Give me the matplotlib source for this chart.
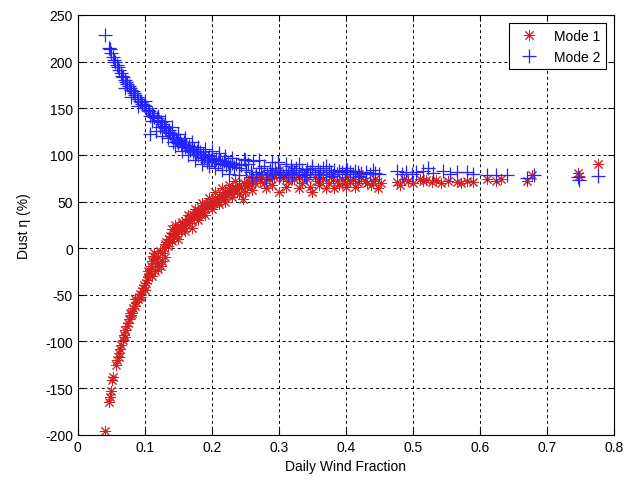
import matplotlib
matplotlib.use('Agg')
import matplotlib.pyplot as plt

plt.rcParams['font.family'] = ['Liberation Sans', 'DejaVu Sans']
plt.rcParams['axes.unicode_minus'] = False

# Mode 1 (red *)
mode1_x = [0.040, 0.047, 0.048, 0.049, 0.051, 0.052, 0.057, 0.059, 0.061, 0.063,
           0.065, 0.067, 0.069, 0.071, 0.073, 0.075, 0.077, 0.079, 0.081, 0.083,
           0.085, 0.087, 0.089, 0.091, 0.093, 0.095, 0.097, 0.099, 0.101, 0.103,
           0.105, 0.106, 0.108, 0.109, 0.111, 0.112, 0.114, 0.116, 0.118, 0.120,
           0.122, 0.124, 0.126, 0.128, 0.130, 0.132, 0.134, 0.136, 0.138, 0.140,
           0.142, 0.144, 0.146, 0.148, 0.150, 0.152, 0.154, 0.156, 0.158, 0.160,
           0.162, 0.164, 0.166, 0.168, 0.170, 0.172, 0.174, 0.176, 0.178, 0.180,
           0.182, 0.184, 0.186, 0.188, 0.190, 0.192, 0.194, 0.196, 0.198, 0.200,
           0.203, 0.205, 0.208, 0.210, 0.213, 0.215, 0.218, 0.220, 0.223, 0.225,
           0.228, 0.230, 0.233, 0.235, 0.238, 0.240, 0.243, 0.246, 0.248, 0.252,
           0.255, 0.258, 0.262, 0.265, 0.268, 0.272, 0.275, 0.278, 0.282, 0.285,
           0.288, 0.292, 0.295, 0.300, 0.302, 0.306, 0.310, 0.314, 0.318, 0.322,
           0.326, 0.330, 0.334, 0.338, 0.342, 0.346, 0.350, 0.354, 0.358, 0.362,
           0.366, 0.370, 0.374, 0.378, 0.382, 0.386, 0.390, 0.394, 0.398, 0.402,
           0.406, 0.410, 0.414, 0.418, 0.422, 0.428, 0.432, 0.438, 0.444, 0.448,
           0.452, 0.476, 0.480, 0.486, 0.492, 0.500, 0.510, 0.515, 0.520, 0.528,
           0.535, 0.542, 0.552, 0.566, 0.572, 0.580, 0.590, 0.610, 0.624, 0.632,
           0.670, 0.678, 0.746, 0.748, 0.776,
           0.062, 0.070, 0.078, 0.086, 0.094, 0.100, 0.104, 0.110, 0.115, 0.120,
           0.125, 0.130, 0.135, 0.140, 0.145, 0.150, 0.155, 0.160, 0.165, 0.170,
           0.175, 0.180, 0.185, 0.190, 0.195, 0.200, 0.205, 0.210, 0.215, 0.220,
           0.225, 0.230, 0.235, 0.240, 0.250, 0.255, 0.260, 0.270, 0.280, 0.290,
           0.300, 0.310, 0.320, 0.330, 0.340, 0.360, 0.380, 0.400, 0.420, 0.440]
mode1_y = [-196, -165, -159, -153, -141, -138, -125, -120, -117, -108,
           -104, -98, -93, -88, -83, -80, -76, -72, -69, -64,
           -62, -58, -55, -52, -49, -46, -43, -40, -37, -34,
           -31, -28, -24, -19, -14, -8, -5, -12, -16, -9,
           -3, -19, -14, 0, 4, 7, 2, 10, 13, 8,
           16, 12, 19, 15, 21, 24, 18, 26, 22, 29,
           25, 31, 27, 34, 30, 36, 32, 38, 35, 41,
           37, 43, 39, 45, 42, 47, 44, 50, 46, 51,
           48, 54, 50, 56, 53, 58, 55, 60, 57, 62,
           59, 64, 61, 66, 63, 68, 65, 53, 70, 67,
           71, 69, 73, 70, 75, 72, 76, 70, 78, 74,
           80, 76, 82, 60, 78, 75, 80, 72, 78, 74,
           80, 76, 70, 78, 74, 66, 60, 76, 72, 78,
           74, 64, 70, 76, 65, 72, 68, 74, 70, 76,
           72, 74, 66, 70, 76, 72, 70, 68, 74, 64,
           70, 71, 68, 74, 72, 70, 74, 72, 73, 71,
           73, 70, 72, 71, 70, 72, 71, 74, 72, 74,
           72, 78, 81, 77, 90,
           -112, -95, -70, -55, -52, -45, -25, -30, -25, -22,
           -5, -10, 5, 20, 25, 10, 28, 18, 35, 22,
           42, 30, 48, 36, 54, 42, 60, 47, 64, 50,
           68, 55, 72, 58, 60, 76, 62, 80, 65, 68,
           84, 66, 84, 65, 82, 68, 80, 66, 80, 72]

# Mode 2 (blue +)
mode2_x = [0.040, 0.046, 0.048, 0.050, 0.052, 0.054, 0.056, 0.058, 0.060, 0.062,
           0.064, 0.066, 0.068, 0.070, 0.072, 0.074, 0.076, 0.078, 0.080, 0.082,
           0.084, 0.086, 0.088, 0.090, 0.092, 0.094, 0.096, 0.098, 0.100, 0.102,
           0.104, 0.106, 0.107, 0.108, 0.110, 0.112, 0.114, 0.116, 0.118, 0.120,
           0.122, 0.124, 0.126, 0.128, 0.130, 0.132, 0.134, 0.136, 0.138, 0.140,
           0.142, 0.144, 0.146, 0.148, 0.150, 0.152, 0.154, 0.156, 0.158, 0.160,
           0.162, 0.164, 0.166, 0.168, 0.170, 0.172, 0.174, 0.176, 0.178, 0.180,
           0.182, 0.184, 0.186, 0.188, 0.190, 0.192, 0.194, 0.196, 0.198, 0.200,
           0.203, 0.206, 0.209, 0.212, 0.215, 0.218, 0.221, 0.224, 0.227, 0.230,
           0.233, 0.236, 0.240, 0.244, 0.248, 0.251, 0.254, 0.258, 0.262, 0.266,
           0.270, 0.274, 0.278, 0.282, 0.286, 0.290, 0.294, 0.298, 0.302, 0.306,
           0.310, 0.314, 0.318, 0.322, 0.326, 0.330, 0.334, 0.338, 0.342, 0.346,
           0.350, 0.354, 0.358, 0.362, 0.366, 0.370, 0.374, 0.378, 0.382, 0.386,
           0.390, 0.394, 0.398, 0.402, 0.406, 0.410, 0.414, 0.418, 0.422, 0.430,
           0.436, 0.444, 0.450, 0.476, 0.484, 0.490, 0.498, 0.505, 0.515, 0.522,
           0.530, 0.545, 0.556, 0.566, 0.580, 0.590, 0.610, 0.624, 0.640, 0.670,
           0.680, 0.746, 0.748, 0.776,
           0.070, 0.080, 0.090, 0.100, 0.110, 0.120, 0.125, 0.130, 0.135, 0.140,
           0.145, 0.150, 0.155, 0.160, 0.165, 0.170, 0.175, 0.180, 0.185, 0.190,
           0.195, 0.200, 0.205, 0.210, 0.215, 0.220, 0.225, 0.230, 0.240, 0.250,
           0.260, 0.270, 0.280, 0.290, 0.300, 0.310, 0.320, 0.330, 0.340, 0.350,
           0.360, 0.370, 0.380, 0.400, 0.420, 0.440]
mode2_y = [228, 215, 213, 209, 205, 202, 199, 196, 194, 191,
           188, 185, 183, 180, 178, 176, 174, 172, 170, 168,
           166, 164, 162, 160, 158, 157, 155, 153, 152, 150,
           148, 147, 142, 122, 145, 143, 141, 126, 139, 137,
           130, 135, 133, 131, 129, 127, 125, 127, 123, 121,
           114, 119, 117, 115, 113, 116, 112, 110, 114, 108,
           111, 107, 109, 105, 108, 103, 106, 101, 104, 100,
           103, 98, 101, 97, 100, 92, 97, 99, 94, 97,
           93, 96, 91, 94, 90, 93, 89, 92, 88, 91,
           87, 90, 86, 89, 96, 84, 90, 82, 93, 80,
           86, 82, 88, 79, 84, 80, 86, 92, 82, 78,
           84, 80, 88, 82, 86, 80, 84, 78, 85, 82,
           86, 80, 84, 82, 86, 80, 84, 82, 84, 80,
           83, 82, 80, 84, 82, 80, 83, 82, 81, 82,
           80, 81, 80, 83, 80, 82, 80, 82, 83, 86,
           81, 83, 80, 82, 82, 80, 78, 78, 78, 75,
           78, 76, 73, 77,
           172, 162, 152, 158, 136, 142, 120, 136, 118, 130,
           110, 122, 104, 118, 100, 114, 95, 108, 90, 106,
           88, 104, 86, 102, 84, 99, 80, 97, 78, 94,
           76, 95, 74, 92, 76, 90, 76, 90, 76, 88,
           76, 88, 77, 86, 77, 84]

fig = plt.figure(figsize=(6.33, 4.81), dpi=100)
ax = fig.add_axes([0.123, 0.094, 0.847, 0.873])

# matlab style asterisk: 8 spokes
ax.plot(mode1_x, mode1_y, linestyle='none', marker=(8, 2, 0), color='#d42020',
        markersize=8, markeredgewidth=0.7, label='Mode 1')
ax.plot(mode2_x, mode2_y, linestyle='none', marker='+', color='#2424ff',
        markersize=10, markeredgewidth=0.9, label='Mode 2')

ax.set_xlim(0, 0.8)
ax.set_ylim(-200, 250)
ax.set_xticks([0, 0.1, 0.2, 0.3, 0.4, 0.5, 0.6, 0.7, 0.8])
ax.set_xticklabels(['0', '0.1', '0.2', '0.3', '0.4', '0.5', '0.6', '0.7', '0.8'])
ax.set_yticks(range(-200, 251, 50))
ax.tick_params(direction='in', top=True, right=True, labelsize=10, length=4)
ax.grid(True, color='black', linestyle=(0, (3, 3)), linewidth=0.7)
for s in ax.spines.values():
    s.set_color('black')
    s.set_linewidth(0.8)

ax.set_xlabel('Daily Wind Fraction', fontsize=10)
ax.set_ylabel('Dust η (%)', fontsize=10, labelpad=10)

leg = ax.legend(loc='upper right', fontsize=10, fancybox=False, framealpha=1,
                edgecolor='black', borderaxespad=0.6)
leg.get_frame().set_linewidth(0.8)

fig.savefig('out.png', dpi=100)
